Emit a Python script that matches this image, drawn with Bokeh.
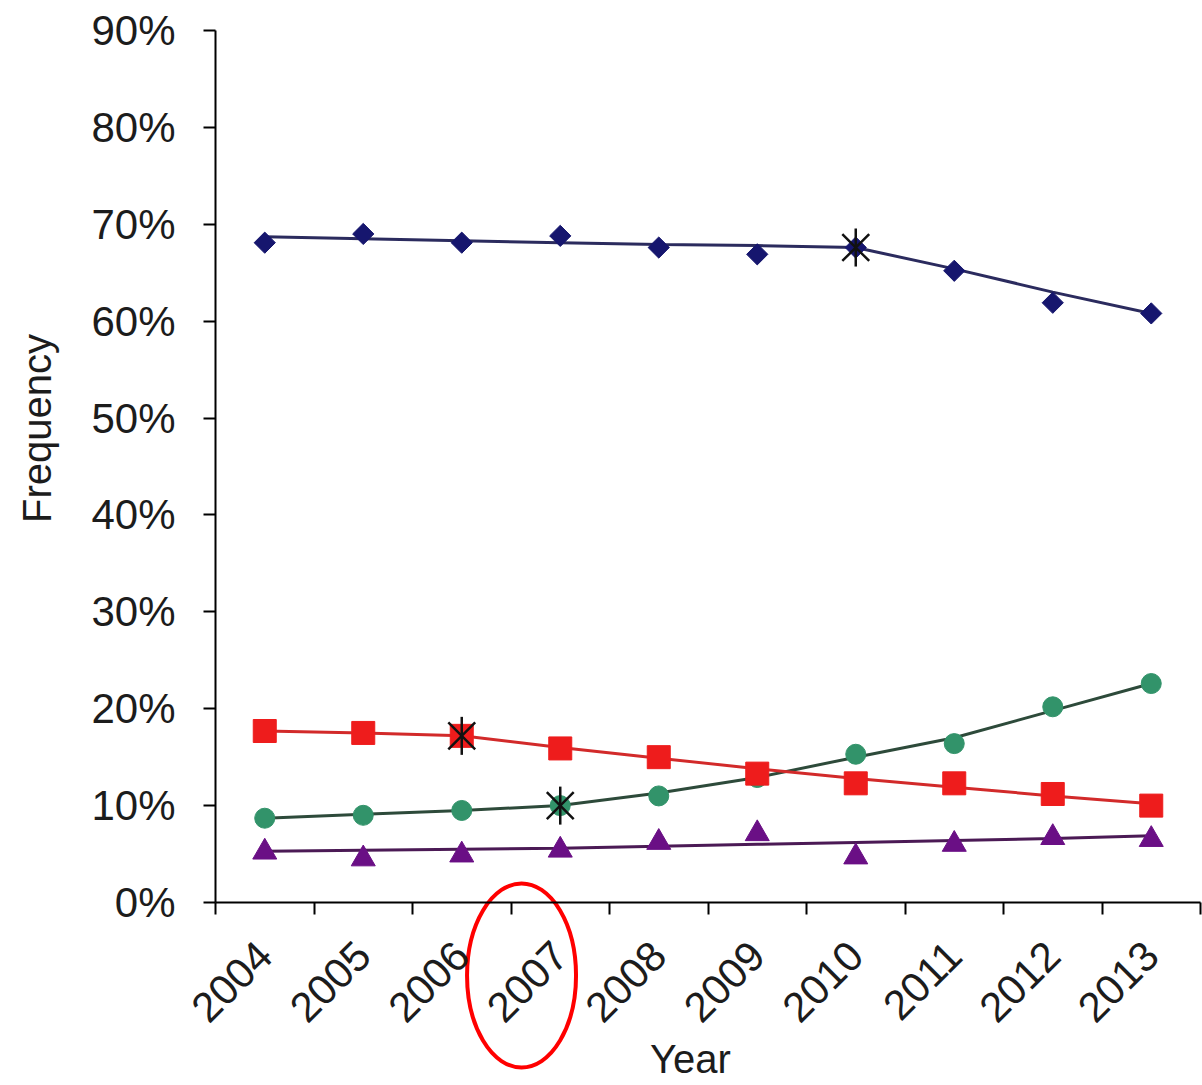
import numpy as np
from bokeh.plotting import figure
from bokeh.models import FixedTicker, NumeralTickFormatter, Range1d, Label
from bokeh.embed import file_html
from bokeh.resources import INLINE

# ---- data -------------------------------------------------------------
years = [2004, 2005, 2006, 2007, 2008, 2009, 2010, 2011, 2012, 2013]
y_ticks = [0.0, 0.1, 0.2, 0.3, 0.4, 0.5, 0.6, 0.7, 0.8, 0.9]

# observed yearly frequencies
blue_obs = [0.681, 0.690, 0.681, 0.688, 0.676, 0.669, 0.676, 0.652, 0.619, 0.608]
red_obs = [0.177, 0.175, 0.172, 0.159, 0.150, 0.133, 0.123, 0.123, 0.112, 0.100]
green_obs = [0.087, 0.090, 0.095, 0.100, 0.110, 0.129, 0.153, 0.164, 0.202, 0.226]
purple_obs = [0.052, 0.045, 0.049, 0.054, 0.062, 0.071, 0.047, 0.060, 0.067, 0.065]

# joinpoint model, fitted value for every year
blue_fit = [0.687, 0.685, 0.683, 0.681, 0.679, 0.678, 0.676, 0.654, 0.630, 0.608]
red_fit = [0.177, 0.175, 0.172, 0.160, 0.149, 0.138, 0.128, 0.119, 0.110, 0.102]
green_fit = [0.087, 0.091, 0.095, 0.100, 0.113, 0.129, 0.150, 0.170, 0.198, 0.226]
purple_fit = [0.053, 0.054, 0.055, 0.056, 0.058, 0.060, 0.062, 0.064, 0.066, 0.069]

# joinpoints marked with a star
joint_years = [2010, 2006, 2007]
joint_values = [0.676, 0.172, 0.100]

highlight_year = 2007

# ---- canvas geometry (pixels) --------------------------------------------
W, H = 1202, 1085
LEFT, RIGHT, TOP, ZERO_Y = 215, 1200, 30, 902
y_top = y_ticks[-1]
px_per_x = (RIGHT - LEFT) / len(years)
px_per_y = (ZERO_Y - TOP) / y_top


def px_to_x(px):
    return (px - LEFT) / px_per_x


def px_to_y(py):
    return (ZERO_Y - py) / px_per_y


def xpos(yrs):
    return [years.index(y) + 0.5 for y in yrs]


x_obs = xpos(years)
FONT = "Liberation Sans"
TXT = "#1c1c1c"

p = figure(
    width=W, height=H,
    x_range=Range1d(px_to_x(0), px_to_x(W)),
    y_range=Range1d(px_to_y(H), px_to_y(0)),
    output_backend="svg", toolbar_location=None, min_border=0,
)
p.grid.visible = False
p.outline_line_color = None
p.background_fill_color = "white"
p.border_fill_color = "white"

# ---- fitted segments ----------------------------------------------------
p.line(x_obs, blue_fit, line_color="#2b2b5e", line_width=3)
p.line(x_obs, purple_fit, line_color="#4b1a55", line_width=3)
p.line(x_obs, green_fit, line_color="#2d4a3a", line_width=3)
p.line(x_obs, red_fit, line_color="#d22a2a", line_width=3)

# ---- observed markers ---------------------------------------------------
p.scatter(x_obs, blue_obs, marker="square", angle=np.pi / 4, size=15,
          fill_color="#16166e", line_color="#16166e")
p.scatter(x_obs, purple_obs, marker="triangle", size=24,
          fill_color="#6a0f85", line_color="#6a0f85")
p.scatter(x_obs, green_obs, marker="circle", size=20,
          fill_color="#32936a", line_color="#32936a")
p.scatter(x_obs, red_obs, marker="square", size=23,
          fill_color="#ee1c1c", line_color="#ee1c1c")

# ---- joinpoint stars ----------------------------------------------------
jx = xpos(joint_years)
p.scatter(jx, joint_values, marker="x", size=38, line_color="#111111", line_width=2.5)
p.scatter(jx, joint_values, marker="dash", angle=np.pi / 2, size=38,
          line_color="#111111", line_width=2.5)

# ---- axes (pinned at the origin) ------------------------------------------
yax = p.yaxis[0]
yax.fixed_location = 0
yax.bounds = (0, y_top)
yax.ticker = FixedTicker(ticks=y_ticks)
yax.formatter = NumeralTickFormatter(format="0%")
yax.minor_tick_line_color = None
yax.major_tick_in = 0
yax.major_tick_out = 12
yax.major_tick_line_width = 2
yax.axis_line_width = 2
yax.axis_line_color = "black"
yax.major_tick_line_color = "black"
yax.major_label_text_font = FONT
yax.major_label_text_font_size = "42px"
yax.major_label_text_color = TXT
yax.major_label_standoff = 28

xax = p.xaxis[0]
xax.fixed_location = 0
xax.bounds = (0, len(years))
xax.ticker = FixedTicker(ticks=x_obs, minor_ticks=list(range(len(years) + 1)))
xax.major_label_overrides = {x: str(y) for x, y in zip(x_obs, years)}
xax.major_tick_in = 0
xax.major_tick_out = 0
xax.minor_tick_in = 0
xax.minor_tick_out = 12
xax.minor_tick_line_width = 2
xax.minor_tick_line_color = "black"
xax.axis_line_width = 2
xax.axis_line_color = "black"
xax.major_label_orientation = np.pi / 4
xax.major_label_text_font = FONT
xax.major_label_text_font_size = "42px"
xax.major_label_text_color = TXT
xax.major_label_standoff = 34

# ---- axis titles ----------------------------------------------------------
p.add_layout(Label(x=px_to_x(36), y=px_to_y(428), text="Frequency", angle=np.pi / 2,
                   text_align="center", text_baseline="middle",
                   text_font=FONT, text_font_size="40px", text_color=TXT))
p.add_layout(Label(x=px_to_x(690), y=px_to_y(1058), text="Year",
                   text_align="center", text_baseline="middle",
                   text_font=FONT, text_font_size="40px", text_color=TXT))

# ---- red ellipse around the 2007 label -------------------------------------
p.ellipse(x=[years.index(highlight_year) + 0.5 - 0.393], y=[px_to_y(975)],
          width=109 / px_per_x, height=184 / px_per_y,
          fill_color=None, line_color="#ff0000", line_width=4)

open("out.html", "w").write(file_html(p, INLINE))
